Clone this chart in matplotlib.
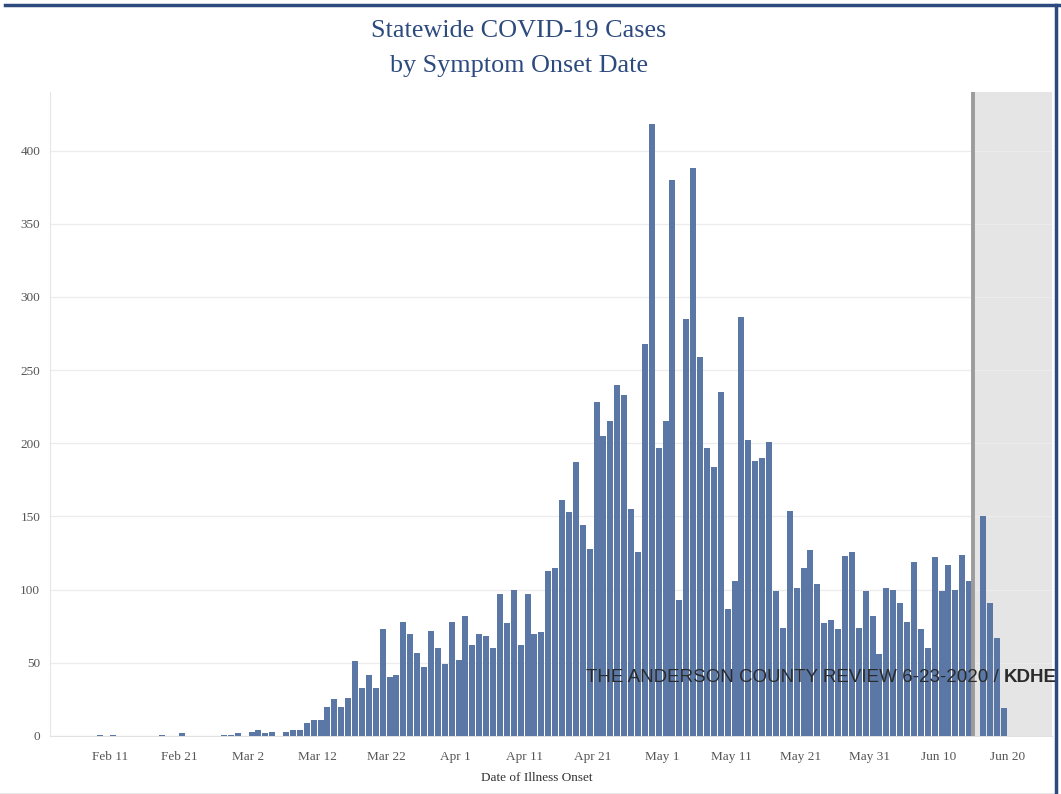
import numpy as np
import pandas as pd
import matplotlib
matplotlib.use("Agg")
import matplotlib.pyplot as plt
import matplotlib.dates as mdates
from matplotlib.lines import Line2D

# daily case counts by symptom onset date, first value is Feb 9 2020
start_date = "2020-02-09"
feb_cases = [1, 0, 1, 0, 0, 0, 0, 0, 0, 1, 0, 0, 2, 0, 0, 0, 0, 0, 1, 1, 2]
mar_cases = [0, 3, 4, 2, 3, 0, 3, 4, 4, 9,
             11, 11, 20, 25, 20, 26, 51, 33, 42, 33,
             73, 40, 42, 78, 70, 57, 47, 72, 60, 49, 78]
apr_cases = [52, 82, 62, 70, 68, 60, 97, 77, 100, 62,
             97, 70, 71, 113, 115, 161, 153, 187, 144, 128,
             228, 205, 215, 240, 233, 155, 126, 268, 418, 197]
may_cases = [215, 380, 93, 285, 388, 259, 197, 184, 235, 87,
             106, 286, 202, 188, 190, 201, 99, 74, 154, 101,
             115, 127, 104, 77, 79, 73, 123, 126, 74, 99, 82]
jun_cases = [56, 101, 100, 91, 78, 119, 73, 60, 122, 99,
             117, 100, 124, 106, 0, 150, 91, 67, 19]

tick_dates = ["2020-02-11", "2020-02-21", "2020-03-02", "2020-03-12", "2020-03-22",
              "2020-04-01", "2020-04-11", "2020-04-21", "2020-05-01", "2020-05-11",
              "2020-05-21", "2020-05-31", "2020-06-10", "2020-06-20"]
tick_labels = ["Feb 11", "Feb 21", "Mar 2", "Mar 12", "Mar 22", "Apr 1", "Apr 11",
               "Apr 21", "May 1", "May 11", "May 21", "May 31", "Jun 10", "Jun 20"]
y_ticks = [0, 50, 100, 150, 200, 250, 300, 350, 400]
incomplete_from = "2020-06-15"

cases = feb_cases + mar_cases + apr_cases + may_cases + jun_cases
dates = pd.date_range(start_date, periods=len(cases), freq="D")

BAR = "#5a77a5"
NAVY = "#2d4a7e"
SERIF = ["Liberation Serif", "DejaVu Serif"]
SANS = ["Liberation Sans", "DejaVu Sans"]

fig = plt.figure(figsize=(10.61, 7.94), dpi=100)
ax = fig.add_axes([50 / 1061, 58 / 794, 1002 / 1061, 644 / 794])

x = mdates.date2num(dates) + 0.5
ax.bar(x, cases, width=0.87, color=BAR, zorder=3)

t0 = mdates.date2num(pd.Timestamp("2020-02-11"))
ax.set_xlim(t0 - 8.7, t0 + 136.5)
ax.set_ylim(0, 440)

# shaded region for recent (incomplete) data
xi = mdates.date2num(pd.Timestamp(incomplete_from))
ax.axvspan(xi, t0 + 136.5, color="#e5e5e5", zorder=1, lw=0)
ax.axvline(xi, color="#9c9c9c", lw=2.8, zorder=4)

ax.set_xticks(mdates.date2num(pd.to_datetime(tick_dates)))
ax.set_xticklabels(tick_labels)
ax.set_yticks(y_ticks)
ax.grid(axis="y", color="#ececec", lw=0.9, zorder=0)
ax.tick_params(length=0, colors="#555555", labelsize=9.5)
ax.tick_params(axis="x", pad=11)
ax.tick_params(axis="y", pad=7)
for lab in ax.get_xticklabels() + ax.get_yticklabels():
    lab.set_family(SERIF)

for s in ["top", "right"]:
    ax.spines[s].set_visible(False)
ax.spines["left"].set_color("#e6e6e6")
ax.spines["bottom"].set_color("#e2e2e2")

fig.text(537 / 1061, 1 - 778 / 794, "Date of Illness Onset", ha="center", va="center",
         fontsize=9.5, color="#333333", family=SERIF)

fig.text(519 / 1061, 1 - 31 / 794, "Statewide COVID-19 Cases", ha="center", va="center",
         fontsize=18.8, color=NAVY, family=SERIF)
fig.text(519 / 1061, 1 - 66 / 794, "by Symptom Onset Date", ha="center", va="center",
         fontsize=18.8, color=NAVY, family=SERIF)

# watermark, normal part then bold source
wm = fig.text(586 / 1061, 1 - 678 / 794, "THE ANDERSON COUNTY REVIEW 6-23-2020 / ",
              ha="left", va="center", fontsize=13.5, color="#2b2b2b",
              family=SANS, zorder=10)
fig.canvas.draw()
bb = wm.get_window_extent(fig.canvas.get_renderer())
fig.text(bb.x1 / fig.bbox.width, 1 - 678 / 794, "KDHE", ha="left", va="center",
         fontsize=13.5, color="#2b2b2b", fontweight="bold", family=SANS, zorder=10)

# frame of the screenshot
fig.add_artist(Line2D([5 / 1061, 1], [1 - 5 / 794, 1 - 5 / 794], color=NAVY, lw=2.5,
                      transform=fig.transFigure))
fig.add_artist(Line2D([1056 / 1061, 1056 / 1061], [0, 1 - 5 / 794], color=NAVY, lw=2.5,
                      transform=fig.transFigure, zorder=20))
fig.add_artist(Line2D([0, 1055 / 1061], [1 / 794, 1 / 794], color="#e8e8e8", lw=0.8,
                      transform=fig.transFigure))

fig.savefig("out.png", dpi=100)
